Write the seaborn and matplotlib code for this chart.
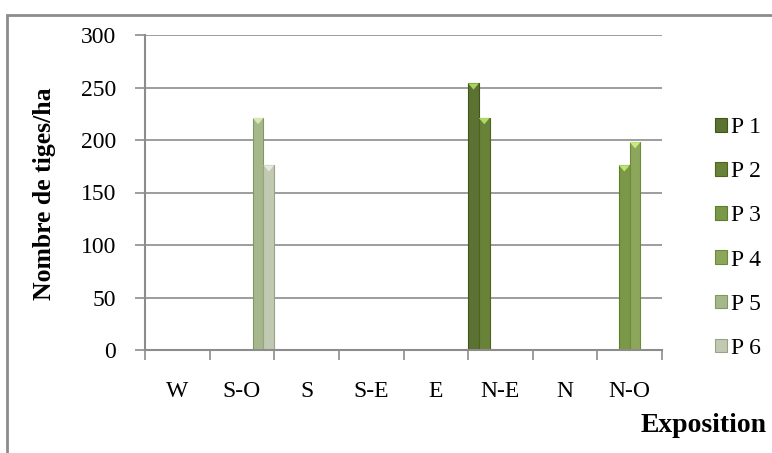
import matplotlib
matplotlib.use("Agg")
import matplotlib.pyplot as plt
import matplotlib.patches as mpatches
import seaborn as sns
import pandas as pd
import numpy as np

categories = ["W", "S-O", "S", "S-E", "E", "N-E", "N", "N-O"]
series = ["P 1", "P 2", "P 3", "P 4", "P 5", "P 6"]
p1 = [0, 0, 0, 0, 0, 254, 0, 0]
p2 = [0, 0, 0, 0, 0, 221, 0, 0]
p3 = [0, 0, 0, 0, 0, 0, 0, 176]
p4 = [0, 0, 0, 0, 0, 0, 0, 198]
p5 = [0, 221, 0, 0, 0, 0, 0, 0]
p6 = [0, 176, 0, 0, 0, 0, 0, 0]
colors = ["#5e7d27", "#6c8e2d", "#7fa53c", "#90b24f", "#a8c083", "#c3cdae"]
edges = ["#3f5718", "#4b661c", "#5b7f26", "#6a8c36", "#7f9963", "#97a384"]
tops = ["#a9d35a", "#b2da62", "#bfe36f", "#c9ea80", "#d6e8b4", "#e4eadb"]

rows = []
for s, vals in zip(series, [p1, p2, p3, p4, p5, p6]):
    for c, v in zip(categories, vals):
        rows.append({"Exposition": c, "Serie": s, "Valeur": v})
df = pd.DataFrame(rows)

sns.set_theme(style="white")
plt.rcParams["font.family"] = ["Liberation Serif", "DejaVu Serif"]
plt.rcParams["text.color"] = "black"
plt.rcParams["xtick.color"] = "black"
plt.rcParams["ytick.color"] = "black"

fig = plt.figure(figsize=(7.72, 4.53), dpi=100)
ax = fig.add_axes([145 / 772, 1 - 350 / 453, 517 / 772, 315 / 453])

sns.barplot(data=df, x="Exposition", y="Valeur", hue="Serie", order=categories,
            hue_order=series, palette=colors, width=1.0, gap=0, dodge=True,
            linewidth=0, ax=ax, legend=True)

ax.set_ylim(0, 300)
ax.set_xlim(-0.5, len(categories) - 0.5)

# bevel-like top highlight derived from each bar's geometry
for cont, ec, tc in zip(ax.containers, edges, tops):
    for bar in cont:
        h = bar.get_height()
        if h > 0:
            bar.set_edgecolor(ec)
            bar.set_linewidth(0.8)
            x0 = bar.get_x()
            w = bar.get_width()
            tri = mpatches.Polygon([[x0, h], [x0 + w, h], [x0 + w / 2, h - 6]],
                                   closed=True, facecolor=tc, edgecolor="none",
                                   zorder=bar.get_zorder() + 0.1)
            ax.add_patch(tri)

ax.set_yticks(np.arange(0, 301, 50))
ax.yaxis.grid(True, color="#8c8c8c", linewidth=1.2)
ax.set_axisbelow(True)
for sp in ["top", "right"]:
    ax.spines[sp].set_visible(False)
for sp in ["left", "bottom"]:
    ax.spines[sp].set_color("#8c8c8c")
    ax.spines[sp].set_linewidth(1.5)

ax.set_xlabel("")
ax.set_ylabel("")
ax.tick_params(axis="y", which="major", direction="out", length=7, width=1.2,
               color="#8c8c8c", labelcolor="black", labelsize=17, pad=14, left=True)
ax.tick_params(axis="x", which="major", length=0, labelsize=17, pad=22,
               labelcolor="black")
ax.set_xticks(np.arange(-0.5, len(categories), 1.0), minor=True)
ax.tick_params(axis="x", which="minor", direction="out", length=7, width=1.2,
               color="#8c8c8c", bottom=True)

handles, labels = ax.get_legend_handles_labels()
ax.legend_.remove()
leg = fig.legend(handles, labels, loc="center left",
                 bbox_to_anchor=(703 / 772, 1 - 238 / 453), frameon=False,
                 fontsize=17, handlelength=0.5, handleheight=0.5,
                 handletextpad=0.2, labelspacing=0.98, borderpad=0,
                 labelcolor="black")
for h, ec in zip(leg.legend_handles, edges):
    h.set_edgecolor(ec)
    h.set_linewidth(0.8)

fig.text(45 / 772, 1 - 194 / 453, "Nombre de tiges/ha", rotation=90,
         ha="center", va="center", fontsize=18.5, fontweight="bold", color="black")
fig.text(767 / 772, 1 - 426 / 453, "Exposition", ha="right", va="center",
         fontsize=20, fontweight="bold", color="black")

border = mpatches.Rectangle((7 / 772, -0.1), 1.2, 1 - 15 / 453 + 0.1,
                            transform=fig.transFigure, fill=False,
                            edgecolor="#8c8c8c", linewidth=2, clip_on=False)
fig.patches.append(border)

fig.savefig("out.png", dpi=100)
